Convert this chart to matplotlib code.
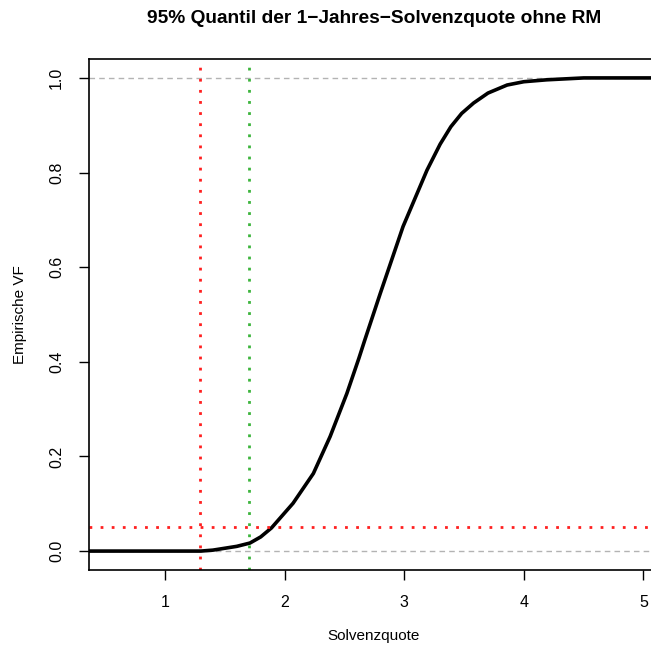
import matplotlib
matplotlib.use("Agg")
import matplotlib.pyplot as plt

plt.rcParams["font.family"] = ["Liberation Sans", "DejaVu Sans"]

# Empirische Verteilungsfunktion
solvenz = [0.30, 1.30, 1.40, 1.50, 1.60, 1.71, 1.80, 1.89, 2.07, 2.24, 2.38, 2.52,
           2.62, 2.67, 2.80, 2.99, 3.19, 3.30, 3.39, 3.48, 3.58, 3.70, 3.86, 4.00,
           4.19, 4.50, 5.20]
ecdf_vf = [0.0, 0.0, 0.002, 0.006, 0.010, 0.017, 0.030, 0.049, 0.101, 0.164, 0.242, 0.333,
           0.407, 0.446, 0.545, 0.686, 0.805, 0.860, 0.897, 0.925, 0.947, 0.968, 0.985, 0.992,
           0.996, 1.0, 1.0]

quantil_rot = 1.29
quantil_gruen = 1.70
niveau = 0.05

x_ticks = [1, 2, 3, 4, 5]
y_ticks = [0.0, 0.2, 0.4, 0.6, 0.8, 1.0]

fig = plt.figure(figsize=(6.51, 6.47), dpi=100)
ax = fig.add_axes([89 / 651, 77 / 647, 570 / 651, 511 / 647])

ax.axhline(0, color="#b3b3b3", ls=(0, (4, 3)), lw=1)
ax.axhline(1, color="#b3b3b3", ls=(0, (4, 3)), lw=1)
ax.plot(solvenz, ecdf_vf, color="black", lw=2.6, solid_capstyle="butt")

ax.axvline(quantil_rot, color="#ff2020", ls=(0, (1, 3)), lw=2)
ax.axvline(quantil_gruen, color="#3cb43c", ls=(0, (1, 3)), lw=2)
ax.axhline(niveau, color="#ff2020", ls=(0, (1, 3)), lw=2)

ax.set_xlim(0.364, 5.13)
ax.set_ylim(-0.04, 1.04)
ax.set_xticks(x_ticks)
ax.set_yticks(y_ticks)
ax.set_xticklabels([str(t) for t in x_ticks], fontsize=11.5)
ax.set_yticklabels(["%.1f" % t for t in y_ticks], fontsize=11.5, rotation=90, va="center")
ax.tick_params(direction="out", length=7, width=1, pad=11)
for s in ax.spines.values():
    s.set_linewidth(1.2)

ax.set_xlabel("Solvenzquote", fontsize=11, labelpad=14)
ax.set_ylabel("Empirische VF", fontsize=11, labelpad=16)
fig.text(0.575, 0.971, "95% Quantil der 1\u2212Jahres\u2212Solvenzquote ohne RM",
         ha="center", va="center", fontsize=13.8, fontweight="bold")

fig.savefig("out.png", dpi=100)
